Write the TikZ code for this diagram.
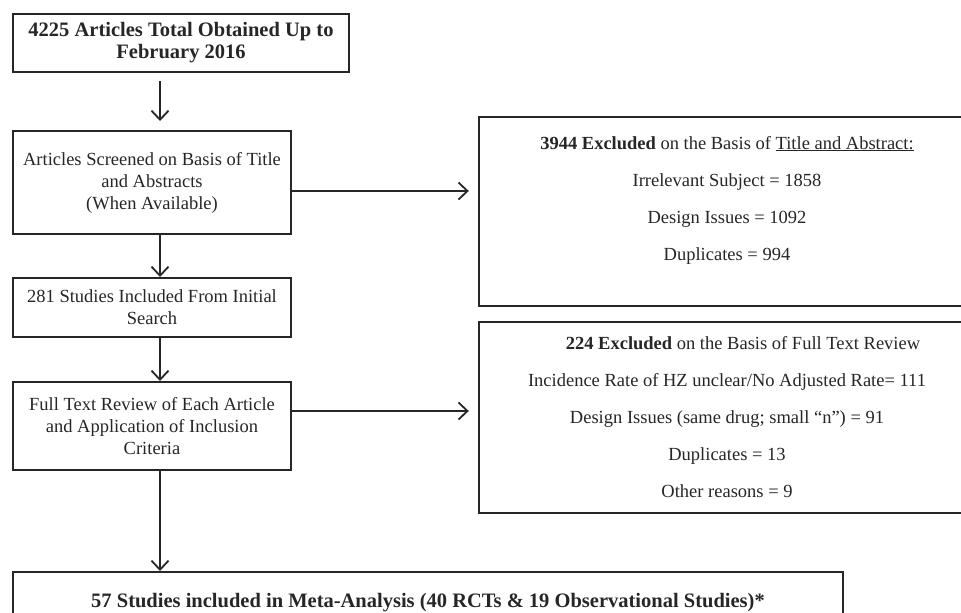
\documentclass[tikz,border=0pt]{standalone}
\usepackage{fontspec}
\setmainfont{Liberation Serif}
\usetikzlibrary{arrows.meta, positioning}
\definecolor{inkgray}{HTML}{262626}

\begin{document}
\begin{tikzpicture}[x=1pt, y=-1pt,
    stage/.style={draw=inkgray, line width=2pt, align=center, inner sep=0pt,
                  text=inkgray, font=\fontsize{18.5}{22}\selectfont},
    boldstage/.style={stage, font=\fontsize{20.5}{22}\selectfont\bfseries},
    exclbox/.style={stage, line width=2.4pt, minimum width=496pt},
    flow/.style={-{Straight Barb[length=9pt, width=17pt, line width=1.8pt]},
                 draw=inkgray, line width=1.8pt}
  ]
    \useasboundingbox (0,0) rectangle (961,613);
    \clip (0,0) rectangle (961,613);
    \coordinate (spine) at (160,0);

    % main column
    \node[boldstage, minimum width=336pt, minimum height=58pt] (total) at (181,43)
      {4225 Articles Total Obtained Up to\\February 2016};
    \node[stage, minimum width=278pt, minimum height=103pt] (screen) at (152,182.5)
      {Articles Screened on Basis of Title\\and Abstracts\\(When Available)};
    \node[stage, minimum width=278pt, minimum height=59pt] (initial) at (152,307.5)
      {281 Studies Included From Initial\\Search};
    \node[stage, minimum width=278pt, minimum height=88pt] (fulltext) at (152,426)
      {Full Text Review of Each Article\\and Application of Inclusion\\Criteria};
    \node[boldstage, minimum width=830pt, minimum height=62pt] (meta) at (428,603)
      {57 Studies included in Meta-Analysis (40 RCTs \& 19 Observational Studies)*};

    % exclusion boxes
    \node[exclbox, minimum height=189pt] (exclA) at (727,211.5)
      {\textbf{3944 Excluded} on the Basis of \underline{Title and Abstract:}\\[15pt]
       Irrelevant Subject = 1858\\[15pt]
       Design Issues = 1092\\[15pt]
       Duplicates = 994\\[5pt]\mbox{}};
    \node[exclbox, minimum height=191pt] (exclB) at (727,417.5)
      {\hspace*{32pt}\textbf{224 Excluded} on the Basis of Full Text Review\\[15pt]
       Incidence Rate of HZ unclear/No Adjusted Rate= 111\\[15pt]
       Design Issues (same drug; small “n”) = 91\\[15pt]
       Duplicates = 13\\[15pt]
       Other reasons = 9};

    % connectors
    \draw[flow, shorten <=8pt, shorten >=9pt] (total.south -| spine) -- (screen.north -| spine);
    \draw[flow] (screen.south -| spine) -- (initial.north -| spine);
    \draw[flow] (initial.south -| spine) -- (fulltext.north -| spine);
    \draw[flow] (fulltext.south -| spine) -- (meta.north -| spine);
    \draw[flow, shorten >=9pt] (screen.east |- 0,191) -- (exclA.west |- 0,191);
    \draw[flow, shorten >=9pt] (fulltext.east |- 0,411) -- (exclB.west |- 0,411);
\end{tikzpicture}
\end{document}
